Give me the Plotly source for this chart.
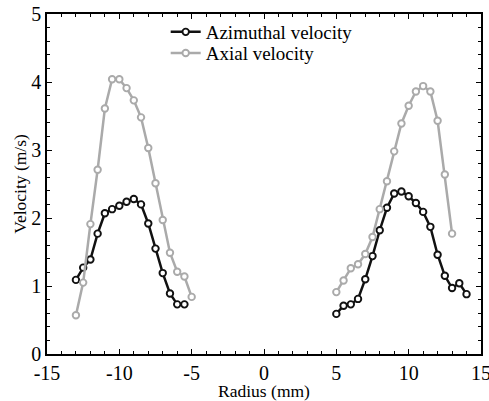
import plotly.graph_objects as go

# Left side (negative radius)
az_left_x = [-13, -12.5, -12, -11.5, -11, -10.5, -10, -9.5, -9, -8.5, -8, -7.5, -7, -6.5, -6, -5.5]
az_left_y = [1.09, 1.27, 1.39, 1.77, 2.07, 2.13, 2.18, 2.24, 2.28, 2.20, 1.92, 1.55, 1.19, 0.89, 0.73, 0.73]
ax_left_x = [-13, -12.5, -12, -11.5, -11, -10.5, -10, -9.5, -9, -8.5, -8, -7.5, -7, -6.5, -6, -5.5, -5]
ax_left_y = [0.57, 1.05, 1.91, 2.71, 3.61, 4.04, 4.04, 3.91, 3.73, 3.48, 3.03, 2.51, 1.97, 1.49, 1.21, 1.14, 0.84]

# Right side (positive radius)
az_right_x = [5, 5.5, 6, 6.5, 7, 7.5, 8, 8.5, 9, 9.5, 10, 10.5, 11, 11.5, 12, 12.5, 13, 13.5, 14]
az_right_y = [0.59, 0.71, 0.73, 0.81, 1.10, 1.44, 1.82, 2.15, 2.36, 2.39, 2.32, 2.22, 2.09, 1.87, 1.46, 1.15, 0.97, 1.04, 0.88]
ax_right_x = [5, 5.5, 6, 6.5, 7, 7.5, 8, 8.5, 9, 9.5, 10, 10.5, 11, 11.5, 12, 12.5, 13]
ax_right_y = [0.91, 1.08, 1.26, 1.32, 1.47, 1.72, 2.13, 2.54, 2.98, 3.39, 3.65, 3.86, 3.94, 3.86, 3.43, 2.64, 1.77]

x_ticks = [-15, -10, -5, 0, 5, 10, 15]
y_ticks = [0, 1, 2, 3, 4, 5]

BLACK = "#111111"
GRAY = "#aaaaaa"
FONT = "Times New Roman, Liberation Serif, serif"

fig = go.Figure()

def add(x, y, color, name, show, legend):
    fig.add_trace(go.Scatter(
        x=x, y=y, mode="lines+markers", name=name, showlegend=show,
        legendgroup=name, legend=legend,
        line=dict(color=color, width=2.5),
        marker=dict(symbol="circle", size=6.5, color="white",
                    line=dict(color=color, width=1.9)),
    ))

add(az_left_x, az_left_y, BLACK, "Azimuthal velocity", True, "legend")
add(ax_left_x, ax_left_y, GRAY, "Axial velocity", True, "legend2")
add(az_right_x, az_right_y, BLACK, "Azimuthal velocity", False, "legend")
add(ax_right_x, ax_right_y, GRAY, "Axial velocity", False, "legend2")

# invisible trace to activate mirrored tick axes (top / right)
fig.add_trace(go.Scatter(x=[x_ticks[0]], y=[y_ticks[0]], xaxis="x2", yaxis="y2",
                         mode="markers", marker=dict(opacity=0), showlegend=False,
                         hoverinfo="skip"))

tfont = dict(family=FONT, size=20, color="black")
axis_common = dict(
    showline=True, linecolor="black", linewidth=1.5,
    ticks="inside", ticklen=5, tickwidth=1.2, tickcolor="black",
    showgrid=False, zeroline=False, automargin=False,
    ticklabeloverflow="allow",
    tickfont=tfont,
)
title_font = dict(family=FONT, size=17.5, color="black")
legend_common = dict(
    xanchor="left", yanchor="middle",
    bgcolor="rgba(0,0,0,0)", borderwidth=0,
    font=dict(family=FONT, size=19, color="black"),
    itemwidth=30, tracegroupgap=0,
)

fig.update_layout(
    template="none",
    xaxis=dict(
        range=[x_ticks[0], x_ticks[-1]], tickmode="array", tickvals=x_ticks,
        ticktext=[str(v) for v in x_ticks],
        title=dict(text="Radius (mm)", font=title_font, standoff=0),
        minor=dict(dtick=1, ticks="inside", ticklen=3, tickcolor="black", tickwidth=1),
        **axis_common,
    ),
    yaxis=dict(
        range=[y_ticks[0], y_ticks[-1]], tickmode="array", tickvals=y_ticks,
        title=dict(text="Velocity (m/s)", font=title_font, standoff=0),
        minor=dict(dtick=0.2, ticks="inside", ticklen=3, tickcolor="black", tickwidth=1),
        ticklabelstandoff=0,
        **axis_common,
    ),
    xaxis2=dict(
        overlaying="x", side="top", range=[x_ticks[0], x_ticks[-1]],
        tickmode="array", tickvals=x_ticks, showticklabels=False,
        minor=dict(dtick=1, ticks="inside", ticklen=3, tickcolor="black", tickwidth=1),
        **axis_common,
    ),
    yaxis2=dict(
        overlaying="y", side="right", range=[y_ticks[0], y_ticks[-1]],
        tickmode="array", tickvals=y_ticks, showticklabels=False,
        minor=dict(dtick=0.2, ticks="inside", ticklen=3, tickcolor="black", tickwidth=1),
        **axis_common,
    ),
    width=489, height=401,
    margin=dict(l=47, r=8, t=14, b=47, autoexpand=False),
    paper_bgcolor="white", plot_bgcolor="white",
    font=dict(family=FONT, color="black", size=16),
    legend=dict(x=0.2735, y=0.947, **legend_common),
    legend2=dict(x=0.2735, y=0.885, **legend_common),
)

fig.write_html("out.html")
